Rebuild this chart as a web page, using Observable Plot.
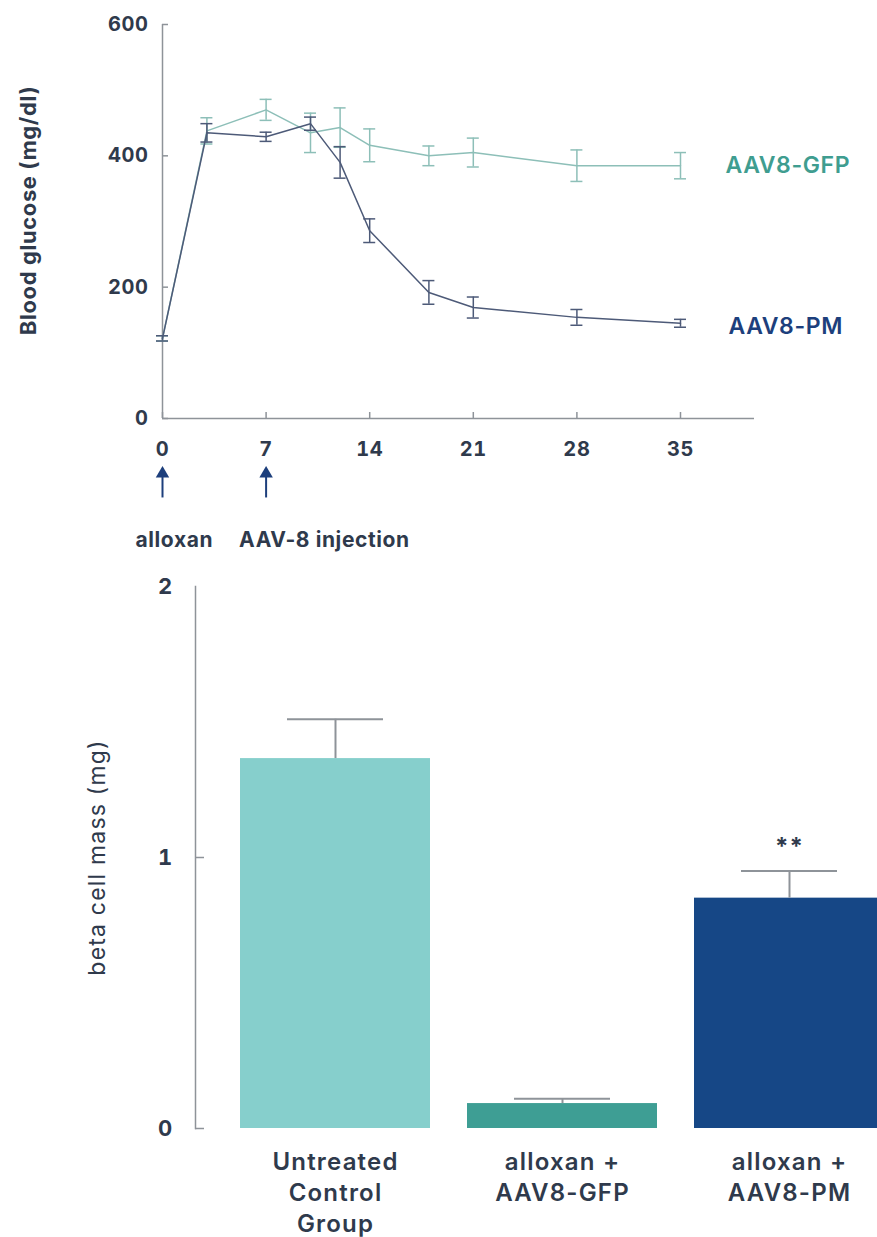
<!DOCTYPE html>
<html><head><meta charset="utf-8">
<script src="https://cdn.jsdelivr.net/npm/d3@7"></script>
<script src="https://cdn.jsdelivr.net/npm/@observablehq/plot@0.6"></script>
<style>
html,body{margin:0;padding:0;background:#fff;overflow:hidden;}
#top,#bottom{display:block;}
#top svg,#bottom svg{overflow:hidden;}
#top svg text{letter-spacing:0.6px;}
#bottom svg text{letter-spacing:1.2px;}
</style></head><body>
<div id="top"></div><div id="bottom"></div>
<script>
// ---- Blood glucose time course ----
const days = [0, 3, 7, 10, 12, 14, 18, 21, 28, 35];
const gfpMean = [122, 438, 470, 435, 443, 416, 400, 405, 385, 385];
const gfpErr = [4, 20, 16, 30, 30, 25, 15, 22, 24, 20];
const pmMean = [122, 435, 429, 449, 390, 286, 192, 169, 154, 145];
const pmErr = [4, 14, 7, 10, 24, 18, 18, 16, 12, 6];
const seriesNames = ["AAV8-GFP", "AAV8-PM"];
const xTicks = [0, 7, 14, 21, 28, 35];
const yTicks = [0, 200, 400, 600];
const eventDays = [0, 7];
const eventLabels = ["alloxan", "AAV-8 injection"];

// ---- Beta cell mass ----
const groups = ["Untreated\nControl\nGroup", "alloxan +\nAAV8-GFP", "alloxan +\nAAV8-PM"];
const massMean = [1.365, 0.092, 0.85];
const massErr = [0.145, 0.018, 0.10];
const massSig = ["", "", "**"];
const massTicks = [0, 1, 2];

const axisColor = "#8e9399";
const textColor = "#2f3a4c";
const gfpLine = "#8dbfb8", gfpText = "#3f9d90";
const pmLine = "#4d5a78", pmText = "#1d3f7c";
const barColors = ["#86cfcc", "#3e9e94", "#164786"];
const font = "Inter, 'Open Sans', sans-serif";

const gfp = days.map((d, i) => ({s: seriesNames[0], day: d, v: gfpMean[i], e: gfpErr[i]}));
const pm = days.map((d, i) => ({s: seriesNames[1], day: d, v: pmMean[i], e: pmErr[i]}));
const events = eventDays.map((d, i) => ({day: d, label: eventLabels[i]}));

function errMarks(data, color) {
  return [
    Plot.ruleX(data, {x: "day", y1: d => d.v - d.e, y2: d => d.v + d.e, stroke: color, strokeWidth: 1.5}),
    Plot.ruleY(data, {y: d => d.v + d.e, x1: "day", x2: "day", insetLeft: -6, insetRight: -6, stroke: color, strokeWidth: 1.5}),
    Plot.ruleY(data, {y: d => d.v - d.e, x1: "day", x2: "day", insetLeft: -6, insetRight: -6, stroke: color, strokeWidth: 1.5})
  ];
}

const glucoseChart = Plot.plot({
  width: 877, height: 565,
  marginLeft: 162, marginRight: 123, marginTop: 24, marginBottom: 147,
  style: {fontFamily: font, fontSize: "20px", color: textColor, background: "#fff"},
  x: {domain: [0, 40]},
  y: {domain: [0, 600]},
  marks: [
    Plot.ruleX([0], {y1: 0, y2: 600, stroke: axisColor, strokeWidth: 1.5}),
    Plot.ruleY([0], {x1: 0, x2: 40, stroke: axisColor, strokeWidth: 1.5}),
    Plot.axisY({ticks: yTicks, tickSize: -6, tickFormat: () => "", label: null, stroke: axisColor, strokeWidth: 1.5}),
    Plot.axisY({ticks: yTicks, tickSize: 0, tickPadding: 14, label: null, fontWeight: 700, fontSize: 20}),
    Plot.axisX({ticks: xTicks, tickSize: -6, tickFormat: () => "", label: null, stroke: axisColor, strokeWidth: 1.5}),
    Plot.axisX({ticks: xTicks, tickSize: 0, tickPadding: 23, label: null, fontWeight: 700, fontSize: 20}),
    Plot.text(["Blood glucose (mg/dl)"], {frameAnchor: "left", textAnchor: "middle", rotate: -90, dx: -134, dy: -11, fontWeight: 700, fontSize: 22, fill: textColor}),
    Plot.line(gfp, {x: "day", y: "v", stroke: gfpLine, strokeWidth: 1.5}),
    ...errMarks(gfp, gfpLine),
    Plot.line(pm, {x: "day", y: "v", stroke: pmLine, strokeWidth: 1.5}),
    ...errMarks(pm, pmLine),
    Plot.text(gfp.slice(-1), {x: "day", y: "v", text: "s", dx: 45, textAnchor: "start", fill: gfpText, fontSize: 23, fontWeight: 600}),
    Plot.text(pm.slice(-1), {x: "day", y: "v", text: "s", dx: 48, dy: 3, textAnchor: "start", fill: pmText, fontSize: 23, fontWeight: 600}),
    Plot.ruleX(events, {x: "day", y1: -121, y2: -86, stroke: pmText, strokeWidth: 2}),
    Plot.dot(events, {x: "day", y: -84, symbol: "triangle", r: 5, fill: pmText, stroke: null}),
    Plot.text(events, {x: "day", y: -186, text: "label", textAnchor: "start", dx: -27, fontWeight: 700, fontSize: 21, fill: textColor})
  ]
});
document.getElementById("top").append(glucoseChart);

const bars = groups.map((g, i) => ({g, v: massMean[i], e: massErr[i], sig: massSig[i]}));

const massChart = Plot.plot({
  width: 877, height: 672,
  marginLeft: 195, marginRight: 0, marginTop: 21, marginBottom: 109,
  style: {fontFamily: font, fontSize: "20px", color: textColor, background: "#fff"},
  x: {type: "band", domain: groups, range: [240, 884], paddingInner: 0.163, paddingOuter: 0},
  y: {domain: [0, 2]},
  color: {domain: groups, range: barColors},
  marks: [
    Plot.frame({anchor: "left", stroke: axisColor, strokeWidth: 1.5}),
    Plot.barY(bars, {x: "g", y: "v", fill: "g"}),
    Plot.ruleX(bars, {x: "g", y1: "v", y2: d => d.v + d.e, stroke: axisColor, strokeWidth: 2}),
    Plot.tickY(bars, {x: "g", y: d => d.v + d.e, insetLeft: 47, insetRight: 47, stroke: axisColor, strokeWidth: 2}),
    Plot.text(bars, {x: "g", y: d => d.v + d.e, text: "sig", dy: -24, fontSize: 24, fontWeight: 700, fill: textColor}),
    Plot.axisY({ticks: [0, 1], tickSize: -9, tickFormat: () => "", label: null, stroke: axisColor, strokeWidth: 1.5}),
    Plot.axisY({ticks: massTicks, tickSize: 0, tickPadding: 22, tickFormat: d3.format("d"), label: null, fontWeight: 700, fontSize: 22}),
    Plot.axisX({tickSize: 0, tickPadding: 20, label: null, fontSize: 24, fontWeight: 600, lineHeight: 1.28}),
    Plot.text(["beta cell mass (mg)"], {frameAnchor: "left", textAnchor: "middle", rotate: -90, dx: -98, fontSize: 23, fill: textColor})
  ]
});
document.getElementById("bottom").append(massChart);
</script>
</body></html>
